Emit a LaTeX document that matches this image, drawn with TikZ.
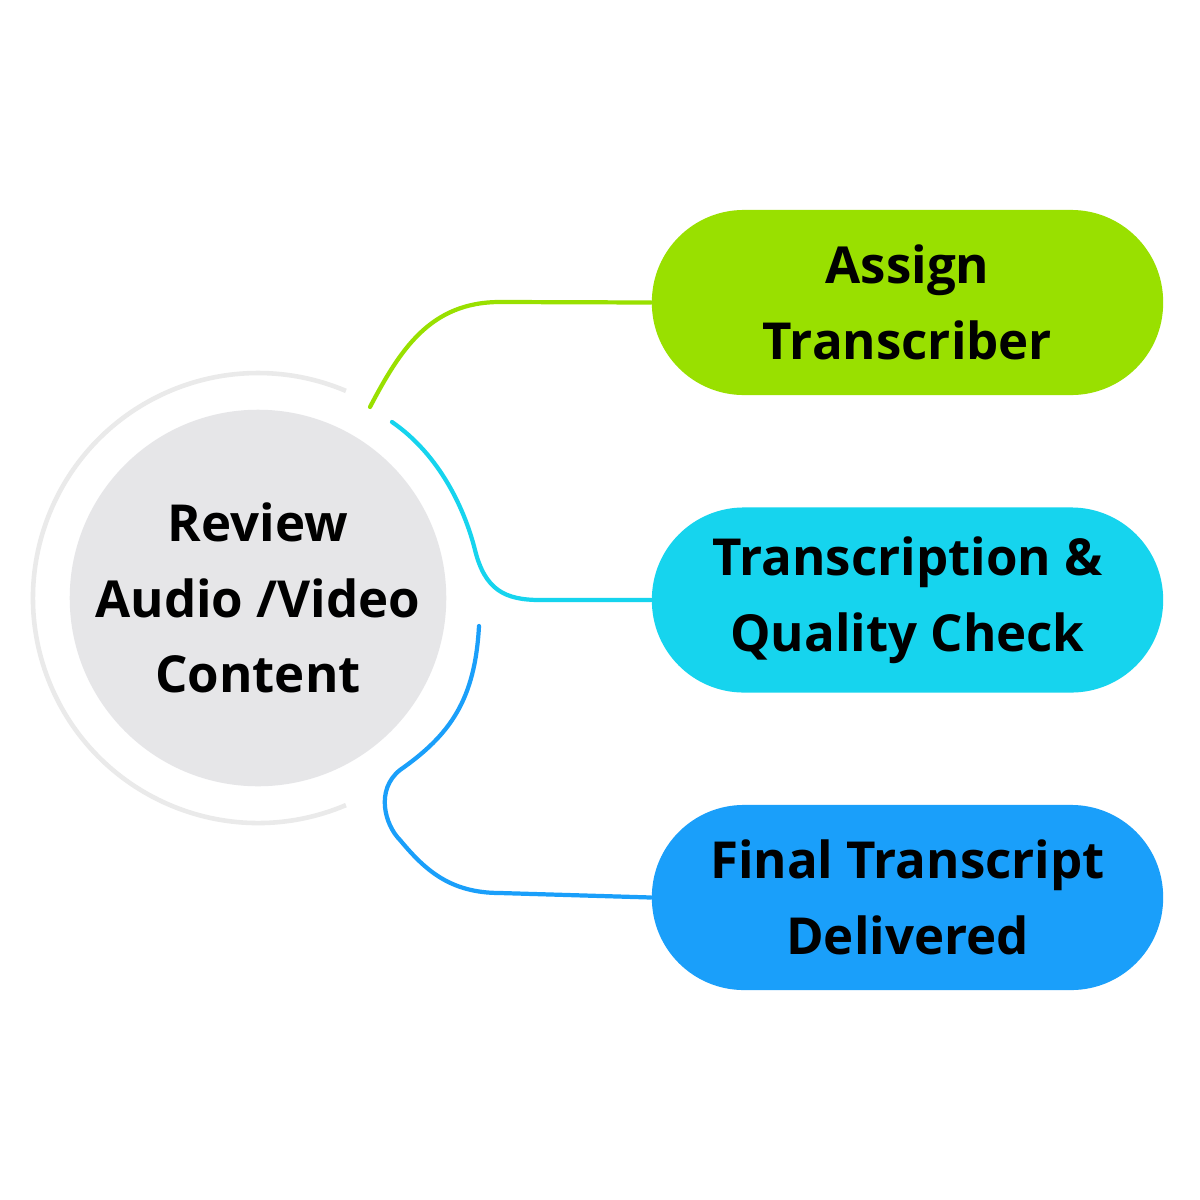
\documentclass[tikz,border=0pt]{standalone}
\usepackage{fontspec}
\setmainfont{Open Sans}
\definecolor{cgreen}{HTML}{99E000}
\definecolor{ccyan}{HTML}{16D4EE}
\definecolor{cblue}{HTML}{1A9FFA}
\definecolor{cgray}{HTML}{E6E6E8}
\definecolor{cring}{HTML}{EAEAEA}
\begin{document}
\begin{tikzpicture}[x=0.01cm,y=-0.01cm,
  pill/.style={rounded corners=0.92cm,minimum width=5.11cm,minimum height=1.85cm,inner sep=0pt,align=center,font=\fontsize{14.5}{21.5}\selectfont\bfseries},
  conn/.style={line width=1.2pt,line cap=round}]
\useasboundingbox (0,0) rectangle (1200,1200);
\fill[white] (0,0) rectangle (1200,1200);
\draw[cring,line width=1.3pt] (258,598) ++(67:225) arc[start angle=67,end angle=293,radius=225];
\node[circle,fill=cgray,minimum size=3.64cm,inner sep=0pt,align=center,font=\fontsize{14.5}{21.5}\selectfont\bfseries] (c) at (258,598) {Review\\Audio /Video\\Content};
\node[pill,fill=cgreen] (a) at (907.5,302.5) {Assign\\Transcriber};
\node[pill,fill=ccyan] (b) at (907.5,600) {Transcription \&\\Quality Check};
\node[pill,fill=cblue] (d) at (907.5,897.5) {Final Transcript\\Delivered};
\coordinate (g0) at (370,407);
\coordinate (c0) at (392,422);
\coordinate (b0) at (479,626);
\draw[conn,cgreen] (g0) .. controls (400,350) and (430,302) .. (500,302) -- (a.west);
\draw[conn,ccyan] (c0) .. controls (440,455) and (465,510) .. (475,550) .. controls (485,590) and (505,600) .. (540,600) -- (b.west);
\draw[conn,cblue] (b0) .. controls (475,700) and (450,735) .. (400,770) .. controls (375,790) and (385,825) .. (400,840) .. controls (425,870) and (450,893) .. (500,893) -- (d.west);
\end{tikzpicture}
\end{document}
